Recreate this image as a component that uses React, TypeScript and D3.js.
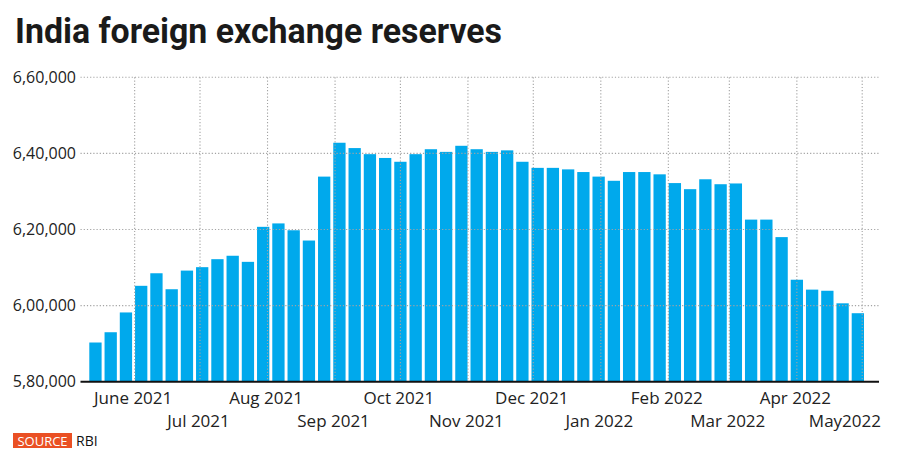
import React from "react";
import * as d3 from "d3";

const weekDates = [
  "2021-05-14","2021-05-21","2021-05-28","2021-06-04","2021-06-11","2021-06-18","2021-06-25",
  "2021-07-02","2021-07-09","2021-07-16","2021-07-23","2021-07-30",
  "2021-08-06","2021-08-13","2021-08-20","2021-08-27",
  "2021-09-03","2021-09-10","2021-09-17","2021-09-24",
  "2021-10-01","2021-10-08","2021-10-15","2021-10-22","2021-10-29",
  "2021-11-05","2021-11-12","2021-11-19","2021-11-26",
  "2021-12-03","2021-12-10","2021-12-17","2021-12-24","2021-12-31",
  "2022-01-07","2022-01-14","2022-01-21","2022-01-28",
  "2022-02-04","2022-02-11","2022-02-18","2022-02-25",
  "2022-03-04","2022-03-11","2022-03-18","2022-03-25",
  "2022-04-01","2022-04-08","2022-04-15","2022-04-22","2022-04-29",
];

const reserves = [
  590300, 593000, 598200, 605200, 608500, 604300, 609200,
  610100, 612200, 613100, 611500, 620700,
  621600, 619800, 617100, 633900,
  642800, 641400, 639800, 638800,
  637800, 639800, 641100, 640400, 642000,
  641100, 640400, 640800, 637800,
  636200, 636200, 635800, 635100, 633900,
  632800, 635100, 635100, 634500,
  632200, 630600, 633200, 631900,
  632100, 622600, 622600, 618000,
  606800, 604200, 603900, 600600, 598000,
];

const monthTicks = [
  "2021-06-01","2021-07-01","2021-08-01","2021-09-01","2021-10-01","2021-11-01",
  "2021-12-01","2022-01-01","2022-02-01","2022-03-01","2022-04-01","2022-05-01",
];
const monthLabels = [
  "June 2021","Jul 2021","Aug 2021","Sep 2021","Oct 2021","Nov 2021",
  "Dec 2021","Jan 2022","Feb 2022","Mar 2022","Apr 2022","May2022",
];

const yTicks = [580000, 600000, 620000, 640000, 660000];
const yTickLabels = ["5,80,000", "6,00,000", "6,20,000", "6,40,000", "6,60,000"];

const title = "India foreign exchange reserves";
const sourceTag = "SOURCE";
const sourceText = "RBI";

const parse = d3.timeParse("%Y-%m-%d");

export default function App() {
  const W = 900, H = 468;
  const plotLeft = 80.5, plotRight = 879;
  const baseY = 381.7, topY = 77.3;
  const barW = 12.3;

  const dates = weekDates.map((d) => parse(d) as Date);
  const x = d3.scaleTime()
    .domain([dates[0], dates[dates.length - 1]])
    .range([95.45, 857.85]);
  const y = d3.scaleLinear()
    .domain([yTicks[0], yTicks[yTicks.length - 1]])
    .range([baseY, topY]);

  const axisFont = "'Open Sans', 'DejaVu Sans', sans-serif";
  const gridColor = "#a3a3a3";
  const dash = "1.2 2";

  return (
    <svg width={W} height={H} style={{ position: "absolute", left: 0, top: 0, background: "#fff" }}>
      <rect x={0} y={0} width={W} height={H} fill="#fff" />
      <text x={15} y={43.3} fontFamily="Roboto, sans-serif" fontWeight={700} fontSize={35}
        fill="#1a1a1a" textLength={487} lengthAdjust="spacingAndGlyphs">{title}</text>

      {/* bars */}
      {reserves.map((v, i) => (
        <rect key={i} x={x(dates[i]) - barW / 2} y={y(v)} width={barW} height={baseY - y(v)} fill="#00a9ec" />
      ))}

      {/* horizontal gridlines */}
      {yTicks.slice(1).map((t) => (
        <line key={t} x1={plotLeft} x2={plotRight} y1={y(t)} y2={y(t)}
          stroke={gridColor} strokeWidth={1.1} strokeDasharray={dash} />
      ))}
      {/* vertical gridlines */}
      {monthTicks.map((m) => {
        const xx = x(parse(m) as Date);
        return (
          <line key={m} x1={xx} x2={xx} y1={topY} y2={baseY}
            stroke={gridColor} strokeWidth={1.1} strokeDasharray={dash} />
        );
      })}

      {/* baseline */}
      <line x1={plotLeft} x2={plotRight} y1={baseY} y2={baseY} stroke="#111" strokeWidth={2} />

      {/* y labels */}
      {yTicks.map((t, i) => (
        <text key={t} x={76} y={y(t)} dy="0.36em" textAnchor="end" fontFamily={axisFont}
          fontSize={16} fill="#222">{yTickLabels[i]}</text>
      ))}

      {/* x labels */}
      {monthTicks.map((m, i) => {
        const xx = x(parse(m) as Date);
        const last = i === monthTicks.length - 1;
        return (
          <text key={m} x={last ? 881 : xx - 1.5} y={i % 2 === 0 ? 403.5 : 426.5}
            textAnchor={last ? "end" : "middle"} fontFamily={axisFont} fontSize={17} fill="#222">
            {monthLabels[i]}
          </text>
        );
      })}

      {/* source */}
      <rect x={13} y={433} width={59} height={15} fill="#ea5024" />
      <text x={42.5} y={445.5} textAnchor="middle" fontFamily={axisFont} fontSize={13} fill="#fff">{sourceTag}</text>
      <text x={76} y={446} fontFamily={axisFont} fontSize={14} fill="#111">{sourceText}</text>
    </svg>
  );
}
